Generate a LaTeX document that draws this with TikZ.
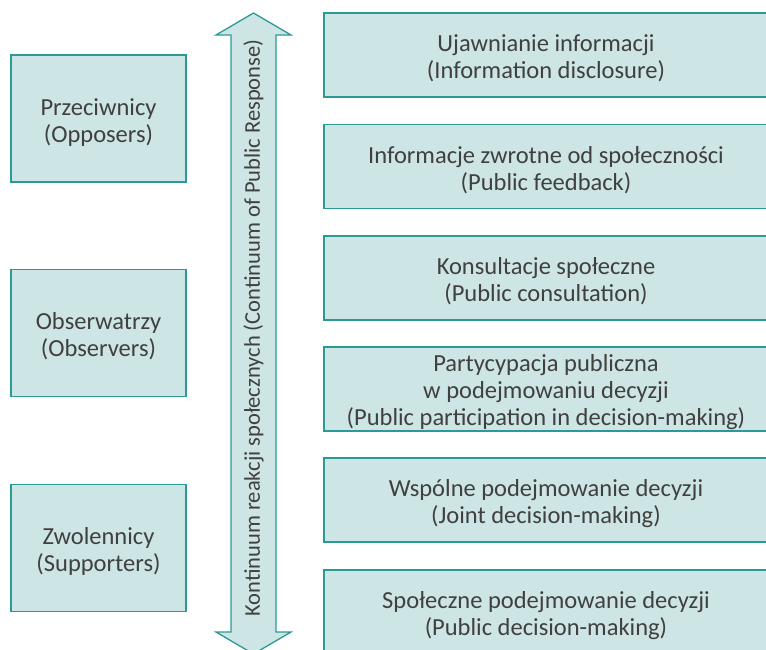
\documentclass[tikz,border=0pt]{standalone}
\usepackage{fontspec}
\setmainfont{Carlito}
\definecolor{boxfill}{HTML}{CDE5E4}
\definecolor{boxline}{HTML}{2B9A97}
\definecolor{txt}{HTML}{404040}
\newcommand\downstrut{\rule{0pt}{24pt}}
\begin{document}
\begin{tikzpicture}[x=1pt,y=-1pt,
  box/.style={draw=boxline,fill=boxfill,line width=1.3pt,rectangle,inner sep=0pt,
    align=center,text=txt,font=\fontsize{24.5}{27}\selectfont},
  leftbox/.style={box,minimum width=175pt,minimum height=127pt},
  rightbox/.style={box,minimum width=444pt,minimum height=84pt}]
\useasboundingbox (0,0) rectangle (766,649);
\clip (0,0) rectangle (766,649);
% left boxes
\node[leftbox] (opp) at (98.5,118.5) {\downstrut Przeciwnicy\\(Opposers)};
\node[leftbox] (obs) at (98.5,333) {\downstrut Obserwatrzy\\(Observers)};
\node[leftbox] (sup) at (98.5,548) {\downstrut Zwolennicy\\(Supporters)};
% double arrow
\draw[draw=boxline,fill=boxfill,line width=1.3pt,line join=miter]
  (253.5,13) -- (291,35) -- (276,35) -- (276,632) -- (291,632) -- (253.5,654)
  -- (216,632) -- (231,632) -- (231,35) -- (216,35) -- cycle;
\node[rotate=90,text=txt,font=\fontsize{22.5}{26}\selectfont] (cont) at (253.5,328)
  {Kontinuum reakcji społecznych (Continuum of Public Response)};
% right boxes
\node[rightbox] (r1) at (546,55) {\downstrut Ujawnianie informacji\\(Information disclosure)};
\node[rightbox] (r2) at (546,166.5) {\downstrut Informacje zwrotne od społeczności\\(Public feedback)};
\node[rightbox] (r3) at (546,278) {\downstrut Konsultacje społeczne\\(Public consultation)};
\node[rightbox] (r4) at (546,389) {\downstrut Partycypacja publiczna\\w podejmowaniu decyzji\\(Public participation in decision-making)};
\node[rightbox] (r5) at (546,500) {\downstrut Wspólne podejmowanie decyzji\\(Joint decision-making)};
\node[rightbox] (r6) at (546,612) {\downstrut Społeczne podejmowanie decyzji\\(Public decision-making)};
\end{tikzpicture}
\end{document}
